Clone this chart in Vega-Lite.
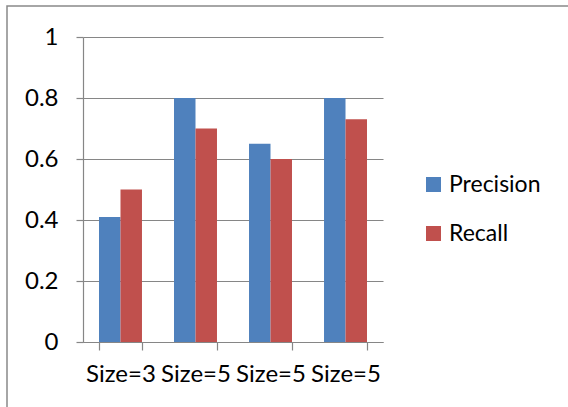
{
  "$schema": "https://vega.github.io/schema/vega-lite/v6.json",
  "autosize": "none",
  "padding": {"left": 7, "top": 6, "right": -4, "bottom": -4},
  "width": 565,
  "height": 405,
  "background": "white",
  "config": {
    "view": {"stroke": "#898989", "strokeWidth": 1.5},
    "font": "Lato",
    "axis": {
      "labelFont": "Lato",
      "labelFontSize": 24,
      "labelColor": "#000000",
      "domainColor": "#868686",
      "tickColor": "#868686",
      "gridColor": "#868686",
      "domainWidth": 1.2,
      "tickWidth": 1.2,
      "gridWidth": 1.2,
      "title": null
    },
    "legend": {"labelFont": "Lato", "labelFontSize": 23, "labelColor": "#000000"}
  },
  "data": {
    "values": [
      {"group": 1, "series": "Precision", "value": 0.41},
      {"group": 1, "series": "Recall", "value": 0.5},
      {"group": 2, "series": "Precision", "value": 0.8},
      {"group": 2, "series": "Recall", "value": 0.7},
      {"group": 3, "series": "Precision", "value": 0.65},
      {"group": 3, "series": "Recall", "value": 0.6},
      {"group": 4, "series": "Precision", "value": 0.8},
      {"group": 4, "series": "Recall", "value": 0.73}
    ]
  },
  "mark": {"type": "bar"},
  "encoding": {
    "x": {
      "field": "group",
      "type": "ordinal",
      "scale": {"range": [76, 376], "paddingInner": 0.427, "paddingOuter": 0.2133},
      "axis": {
        "orient": "bottom",
        "offset": -69,
        "labelAngle": 0,
        "tickBand": "extent",
        "tickSize": 8,
        "labelPadding": 12,
        "labelExpr": "datum.label == '1' ? 'Size=3' : (datum.label == '2' || datum.label == '3' || datum.label == '4') ? 'Size=5' : ''",
        "grid": false
      }
    },
    "xOffset": {"field": "series", "type": "nominal", "scale": {"paddingInner": 0, "paddingOuter": 0}},
    "y": {
      "field": "value",
      "type": "quantitative",
      "scale": {"domain": [0, 1], "range": [336, 31], "nice": false, "zero": true},
      "axis": {
        "orient": "left",
        "offset": -76,
        "values": [0, 0.2, 0.4, 0.6, 0.8, 1],
        "format": ".1~f",
        "tickSize": 7,
        "labelPadding": 18,
        "grid": true
      }
    },
    "color": {
      "field": "series",
      "type": "nominal",
      "scale": {"domain": ["Precision", "Recall"], "range": ["#4F81BD", "#C0504D"]},
      "legend": {
        "title": null,
        "orient": "none",
        "legendX": 415,
        "legendY": 167,
        "symbolType": "square",
        "symbolSize": 225,
        "symbolStrokeWidth": 0,
        "labelOffset": 4,
        "rowPadding": 25
      }
    }
  }
}
